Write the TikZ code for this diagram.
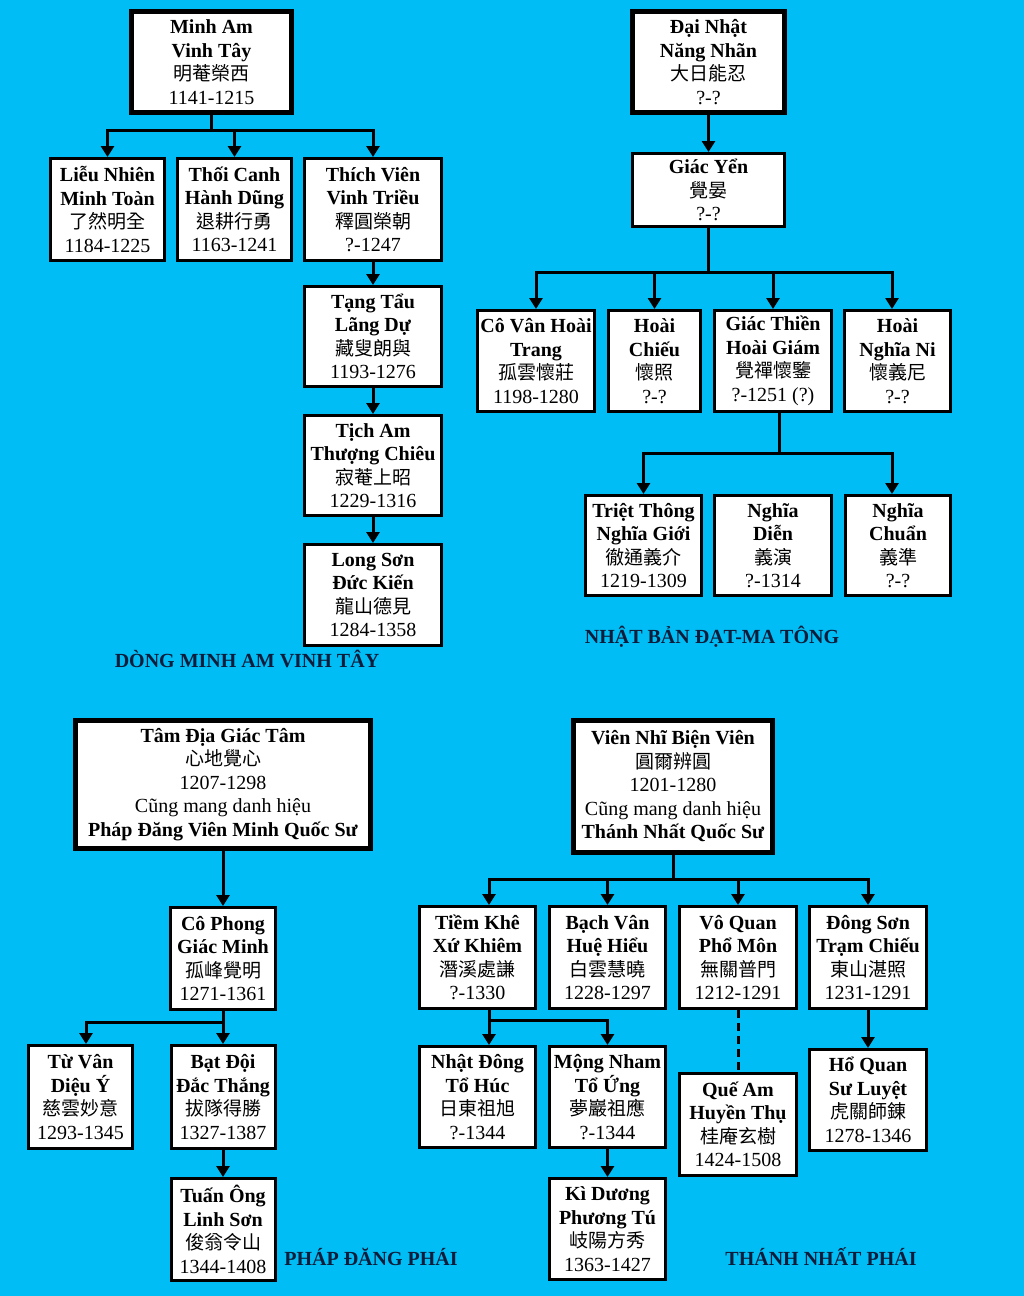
\documentclass[tikz,border=0pt]{standalone}
\usepackage{fontspec}
\setmainfont{Liberation Serif}
\newfontfamily\cjkfont{Noto Sans CJK TC}
\usetikzlibrary{arrows.meta}
\definecolor{bgcyan}{RGB}{0,190,245}
\definecolor{lblnavy}{RGB}{12,28,58}
\newcommand{\cj}[1]{{\cjkfont\fontsize{19}{23.5}\selectfont #1}}
\newcommand{\pfour}[4]{\textbf{#1}\\\textbf{#2}\\\cj{#3}\\#4}
\tikzset{
  box/.style={draw, fill=white, line width=3pt, inner sep=0pt, align=center,
    font=\fontsize{20}{23.5}\selectfont},
  topbox/.style={box, line width=5pt},
  ln/.style={line width=3pt, black},
  arr/.style={ln, -{Triangle[width=13pt,length=11pt]}},
  lbl/.style={font=\fontsize{20}{24}\selectfont\bfseries, text=lblnavy, inner sep=0pt}
}
\begin{document}
\begin{tikzpicture}[x=1pt,y=-1pt]
\fill[bgcyan] (0,0) rectangle (1024,1296);
\useasboundingbox (0,0) rectangle (1024,1296);

% ---------- Minh Am Vinh Tay ----------
\node[topbox, minimum width=160pt, minimum height=101pt] (minh) at (211.5,62) {\pfour{Minh Am}{Vinh Tây}{明菴榮西}{1141-1215}};
\node[box, minimum width=114pt, minimum height=102pt] (lieu) at (107.5,209.5) {\pfour{Liễu Nhiên}{Minh Toàn}{了然明全}{1184-1225}};
\node[box, minimum width=114pt, minimum height=102pt] (thoi) at (234.5,209.5) {\pfour{Thối Canh}{Hành Dũng}{退耕行勇}{1163-1241}};
\node[box, minimum width=137pt, minimum height=102pt] (thich) at (373,209.5) {\pfour{Thích Viên}{Vinh Triều}{釋圓榮朝}{?-1247}};
\node[box, minimum width=137pt, minimum height=100pt] (tang) at (373,336.5) {\pfour{Tạng Tẩu}{Lãng Dự}{藏叟朗與}{1193-1276}};
\node[box, minimum width=137pt, minimum height=100pt] (tich) at (373,465.5) {\pfour{Tịch Am}{Thượng Chiêu}{寂菴上昭}{1229-1316}};
\node[box, minimum width=137pt, minimum height=101pt] (long) at (373,595) {\pfour{Long Sơn}{Đức Kiến}{龍山德見}{1284-1358}};
\node[lbl] (lbl1) at (247,659) {DÒNG MINH AM VINH TÂY};

\draw[arr] (minh.south) -- ++(0,15) -| (lieu.north);
\draw[arr] (minh.south) -- ++(0,15) -| (thoi.north);
\draw[arr] (minh.south) -- ++(0,15) -| (thich.north);
\draw[arr] (thich.south) -- (tang.north);
\draw[arr] (tang.south) -- (tich.north);
\draw[arr] (tich.south) -- (long.north);

% ---------- Nhat Ban Dat-ma Tong ----------
\node[topbox, minimum width=152pt, minimum height=101pt] (dainhat) at (708.5,62) {\pfour{Đại Nhật}{Năng Nhãn}{大日能忍}{?-?}};
\node[box, minimum width=152pt, minimum height=73pt] (giacyen) at (708.5,190) {\textbf{Giác Yển}\\\cj{覺晏}\\?-?};
\node[box, minimum width=117pt, minimum height=101pt] (covan) at (536,361) {\pfour{Cô Vân Hoài}{Trang}{孤雲懷莊}{1198-1280}};
\node[box, minimum width=92pt, minimum height=101pt] (hoaichieu) at (654.5,361) {\pfour{Hoài}{Chiếu}{懷照}{?-?}};
\node[box, minimum width=117pt, minimum height=101pt] (giacthien) at (773,361) {\pfour{Giác Thiền}{Hoài Giám}{覺禪懷鑒}{?-1251 (?)}};
\node[box, minimum width=106pt, minimum height=101pt] (hoainghia) at (897.5,361) {\pfour{Hoài}{Nghĩa Ni}{懷義尼}{?-?}};
\node[box, minimum width=116pt, minimum height=100pt] (triet) at (643.5,545.5) {\pfour{Triệt Thông}{Nghĩa Giới}{徹通義介}{1219-1309}};
\node[box, minimum width=117pt, minimum height=100pt] (nghiadien) at (773,545.5) {\pfour{Nghĩa}{Diễn}{義演}{?-1314}};
\node[box, minimum width=105pt, minimum height=100pt] (nghiachuan) at (898,545.5) {\pfour{Nghĩa}{Chuẩn}{義準}{?-?}};
\node[lbl] (lbl2) at (712,637) {NHẬT BẢN ĐẠT-MA TÔNG};

\draw[arr] (dainhat.south) -- (giacyen.north);
\draw[arr] (giacyen.south) -- ++(0,44) -| (covan.north);
\draw[arr] (giacyen.south) -- ++(0,44) -| (hoaichieu.north);
\draw[arr] (giacyen.south) -- ++(0,44) -| (giacthien.north);
\draw[arr] (giacyen.south) -- ++(0,44) -| ([xshift=-5.5pt]hoainghia.north);
\draw[arr] ([xshift=6pt]giacthien.south) -- ++(0,40) -| (triet.north);
\draw[arr] ([xshift=6pt]giacthien.south) -- ++(0,40) -| ([xshift=-6pt]nghiachuan.north);

% ---------- Phap Dang Phai ----------
\node[topbox, minimum width=295pt, minimum height=128pt] (tamdia) at (223,784.5) {\textbf{Tâm Địa Giác Tâm}\\\cj{心地覺心}\\1207-1298\\Cũng mang danh hiệu\\\textbf{Pháp Đăng Viên Minh Quốc Sư}};
\node[box, minimum width=105pt, minimum height=102pt] (cophong) at (223,958.5) {\pfour{Cô Phong}{Giác Minh}{孤峰覺明}{1271-1361}};
\node[box, minimum width=104pt, minimum height=103pt] (tuvan) at (80.5,1097) {\pfour{Từ Vân}{Diệu Ý}{慈雲妙意}{1293-1345}};
\node[box, minimum width=104pt, minimum height=103pt] (batdoi) at (223,1097) {\pfour{Bạt Đội}{Đắc Thắng}{拔隊得勝}{1327-1387}};
\node[box, minimum width=104pt, minimum height=102pt] (tuanong) at (223,1229.5) {\pfour{Tuấn Ông}{Linh Sơn}{俊翁令山}{1344-1408}};
\node[lbl] (lbl3) at (371,1257) {PHÁP ĐĂNG PHÁI};

\draw[arr] (tamdia.south) -- (cophong.north);
\draw[arr] (cophong.south) -- ++(0,11) -| ([xshift=5.5pt]tuvan.north);
\draw[arr] (cophong.south) -- ++(0,11) -| (batdoi.north);
\draw[arr] (batdoi.south) -- (tuanong.north);

% ---------- Thanh Nhat Phai ----------
\node[topbox, minimum width=199pt, minimum height=132pt] (viennhi) at (673,786.5) {\textbf{Viên Nhĩ Biện Viên}\\\cj{圓爾辨圓}\\1201-1280\\Cũng mang danh hiệu\\\textbf{Thánh Nhất Quốc Sư}};
\node[box, minimum width=116pt, minimum height=102pt] (tiemkhe) at (477.5,957.5) {\pfour{Tiềm Khê}{Xứ Khiêm}{潛溪處謙}{?-1330}};
\node[box, minimum width=116pt, minimum height=102pt] (bachvan) at (607.5,957.5) {\pfour{Bạch Vân}{Huệ Hiểu}{白雲慧曉}{1228-1297}};
\node[box, minimum width=117pt, minimum height=102pt] (voquan) at (738,957.5) {\pfour{Vô Quan}{Phổ Môn}{無關普門}{1212-1291}};
\node[box, minimum width=117pt, minimum height=102pt] (dongson) at (868,957.5) {\pfour{Đông Sơn}{Trạm Chiếu}{東山湛照}{1231-1291}};
\node[box, minimum width=116pt, minimum height=101pt] (nhatdong) at (477.5,1097) {\pfour{Nhật Đông}{Tổ Húc}{日東祖旭}{?-1344}};
\node[box, minimum width=116pt, minimum height=101pt] (mongnham) at (607.5,1097) {\pfour{Mộng Nham}{Tổ Ứng}{夢巖祖應}{?-1344}};
\node[box, minimum width=116pt, minimum height=101pt] (kiduong) at (607.5,1229) {\pfour{Kì Dương}{Phương Tú}{岐陽方秀}{1363-1427}};
\node[box, minimum width=117pt, minimum height=102pt] (queam) at (738,1124.5) {\pfour{Quế Am}{Huyền Thụ}{桂庵玄樹}{1424-1508}};
\node[box, minimum width=117pt, minimum height=101pt] (hoquan) at (868,1100) {\pfour{Hổ Quan}{Sư Luyệt}{虎關師錬}{1278-1346}};
\node[lbl] (lbl4) at (821,1257) {THÁNH NHẤT PHÁI};

\draw[arr] (viennhi.south) -- ++(0,24) -| ([xshift=11.5pt]tiemkhe.north);
\draw[arr] (viennhi.south) -- ++(0,24) -| (bachvan.north);
\draw[arr] (viennhi.south) -- ++(0,24) -| (voquan.north);
\draw[arr] (viennhi.south) -- ++(0,24) -| (dongson.north);
\draw[arr] ([xshift=11.5pt]tiemkhe.south) -- ++(0,10) -| ([xshift=11.5pt]nhatdong.north);
\draw[arr] ([xshift=11.5pt]tiemkhe.south) -- ++(0,10) -| (mongnham.north);
\draw[arr] (mongnham.south) -- (kiduong.north);
\draw[ln, dash pattern=on 8pt off 5pt] (voquan.south) -- (queam.north);
\draw[arr] (dongson.south) -- (hoquan.north);
\end{tikzpicture}
\end{document}
